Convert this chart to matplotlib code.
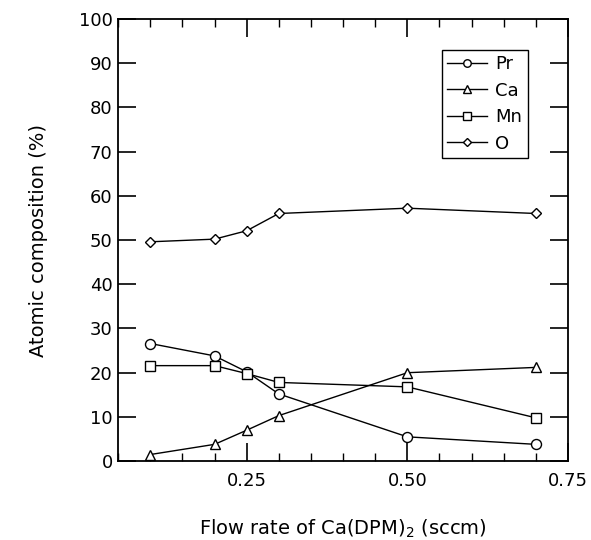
import numpy as np
import matplotlib
matplotlib.use('Agg')
import matplotlib.pyplot as plt
from matplotlib.ticker import MultipleLocator

plt.rcParams['font.family'] = ['DejaVu Sans']
plt.rcParams['mathtext.fontset'] = 'dejavusans'

flow = [0.1, 0.2, 0.25, 0.3, 0.5, 0.7]
pr = [26.6, 23.8, 20.2, 15.2, 5.5, 3.8]
ca = [1.5, 3.8, 7.0, 10.3, 20.0, 21.2]
mn = [21.6, 21.6, 19.8, 17.8, 16.8, 9.8]
ox = [49.6, 50.2, 52.1, 56.0, 57.2, 56.0]

series = [('Pr', pr, 'o', 10), ('Ca', ca, '^', 10), ('Mn', mn, 's', 9.5), ('O', ox, 'D', 7.5)]

fig = plt.figure(figsize=(5.91, 5.40), dpi=100)
ax = fig.add_axes([0.2, 0.146, 0.761, 0.819])

for name, vals, m, ms in series:
    ax.plot(flow, vals, color='black', lw=1.0, marker=m, ms=ms * 0.72,
            mfc='white', mec='black', mew=1.0, label=name)

ax.set_xlim(0.05, 0.75)
ax.set_ylim(0, 100)
ax.xaxis.set_minor_locator(MultipleLocator(0.05))
ax.yaxis.set_major_locator(MultipleLocator(10))
ax.set_xticks([0.25, 0.5, 0.75])
ax.set_xticklabels(['0.25', '0.50', '0.75'])
ax.tick_params(which='both', direction='in', top=True, right=True, labelsize=13)
ax.tick_params(which='major', length=13, width=1.2, pad=8)
ax.tick_params(which='minor', length=6, width=1.0)
ax.tick_params(axis='y', which='major', pad=4)
for s in ax.spines.values():
    s.set_linewidth(1.3)

ax.set_xlabel('Flow rate of Ca(DPM)$_2$ (sccm)', fontsize=14, labelpad=20)
ax.set_ylabel('Atomic composition (%)', fontsize=14, labelpad=22)

leg = ax.legend(loc='upper left', bbox_to_anchor=(0.72, 0.93), fontsize=13,
                frameon=True, fancybox=False, edgecolor='black', framealpha=1,
                handlelength=2.2, handletextpad=0.45, borderpad=0.3, labelspacing=0.47,
                borderaxespad=0, markerscale=0.75)
leg.get_frame().set_linewidth(1.0)

plt.savefig('out.png', dpi=100)
